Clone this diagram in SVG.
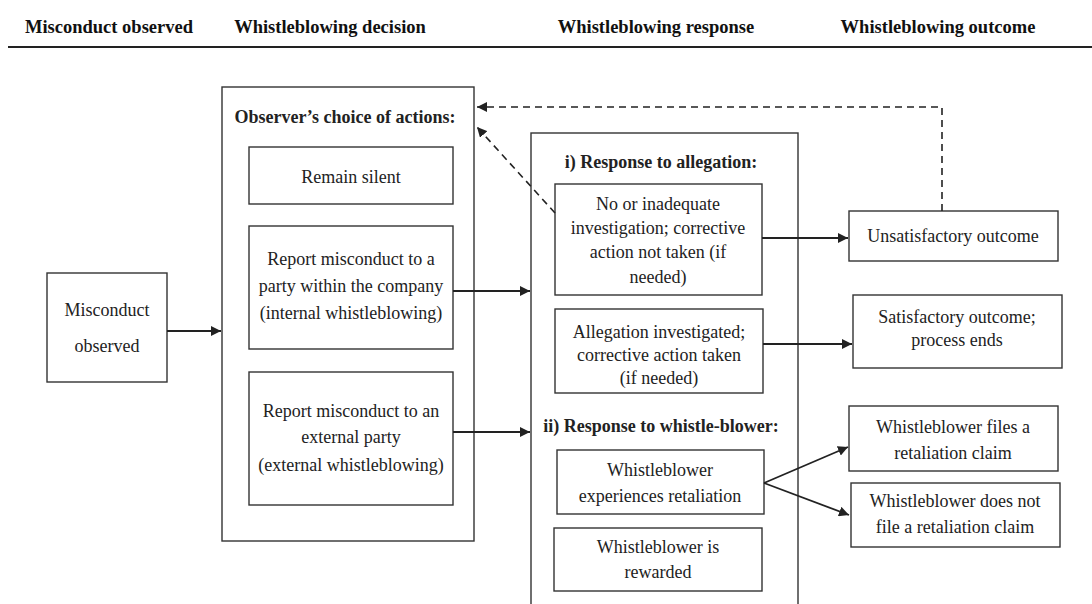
<svg xmlns="http://www.w3.org/2000/svg" width="1092" height="604" viewBox="0 0 1092 604">
  <defs>
    <marker id="arrow" viewBox="0 0 10 10" refX="10" refY="5" markerWidth="10" markerHeight="10" markerUnits="userSpaceOnUse" orient="auto">
      <path d="M0,0 L10,5 L0,10 z" fill="#222"/>
    </marker>
    <style>
      .box { fill: #fff; stroke: #333; stroke-width: 1.4; }
      .frame { fill: none; stroke: #333; stroke-width: 1.4; }
      .t { font-family: "Liberation Serif", "Times New Roman", serif; font-size: 18px; fill: #222; text-anchor: middle; }
      .b { font-family: "Liberation Serif", "Times New Roman", serif; font-size: 18px; font-weight: bold; fill: #222; text-anchor: middle; }
      .h { font-family: "Liberation Serif", "Times New Roman", serif; font-size: 18.5px; font-weight: bold; fill: #111; text-anchor: middle; }
      .link { fill: none; stroke: #222; stroke-width: 1.8; }
      .dash { fill: none; stroke: #222; stroke-width: 1.6; stroke-dasharray: 7 5; }
    </style>
  </defs>

  <rect width="1092" height="604" fill="#fff"/>

  <!-- column headings -->
  <g id="header">
    <text class="h" x="109" y="33">Misconduct observed</text>
    <text class="h" x="330" y="33">Whistleblowing decision</text>
    <text class="h" x="656" y="33">Whistleblowing response</text>
    <text class="h" x="938" y="33">Whistleblowing outcome</text>
    <line x1="8" y1="47" x2="1092" y2="47" stroke="#222" stroke-width="2.2"/>
  </g>

  <!-- misconduct -->
  <g id="misconduct">
    <rect class="box" x="47" y="273" width="120" height="109"/>
    <text class="t" x="107" y="316">Misconduct</text>
    <text class="t" x="107" y="352">observed</text>
  </g>

  <!-- decision column -->
  <g id="choices">
    <rect class="frame" x="222" y="87" width="252" height="454"/>
    <text class="b" x="345" y="123">Observer’s choice of actions:</text>
  </g>
  <g id="silent">
    <rect class="box" x="249" y="147" width="204" height="57"/>
    <text class="t" x="351" y="183">Remain silent</text>
  </g>
  <g id="internal">
    <rect class="box" x="249" y="226" width="204" height="123"/>
    <text class="t" x="351" y="265">Report misconduct to a</text>
    <text class="t" x="351" y="292">party within the company</text>
    <text class="t" x="351" y="319">(internal whistleblowing)</text>
  </g>
  <g id="external">
    <rect class="box" x="249" y="372" width="204" height="133"/>
    <text class="t" x="351" y="417">Report misconduct to an</text>
    <text class="t" x="351" y="443">external party</text>
    <text class="t" x="351" y="471">(external whistleblowing)</text>
  </g>

  <!-- response column -->
  <g id="response">
    <rect class="frame" x="531" y="133" width="267" height="480"/>
    <text class="b" x="661" y="168">i) Response to allegation:</text>
    <text class="b" x="661" y="432">ii) Response to whistle-blower:</text>
  </g>
  <g id="inadequate">
    <rect class="box" x="555" y="184" width="207" height="111"/>
    <text class="t" x="658" y="210">No or inadequate</text>
    <text class="t" x="658" y="234">investigation; corrective</text>
    <text class="t" x="658" y="258">action not taken (if</text>
    <text class="t" x="658" y="283">needed)</text>
  </g>
  <g id="investigated">
    <rect class="box" x="555" y="309" width="208" height="84"/>
    <text class="t" x="659" y="338">Allegation investigated;</text>
    <text class="t" x="659" y="361">corrective action taken</text>
    <text class="t" x="659" y="384">(if needed)</text>
  </g>
  <g id="retaliation">
    <rect class="box" x="557" y="450" width="207" height="64"/>
    <text class="t" x="660" y="476">Whistleblower</text>
    <text class="t" x="660" y="502">experiences retaliation</text>
  </g>
  <g id="rewarded">
    <rect class="box" x="554" y="528" width="208" height="63"/>
    <text class="t" x="658" y="553">Whistleblower is</text>
    <text class="t" x="658" y="578">rewarded</text>
  </g>

  <!-- outcome column -->
  <g id="unsatisfactory">
    <rect class="box" x="849" y="211" width="209" height="50"/>
    <text class="t" x="953" y="242">Unsatisfactory outcome</text>
  </g>
  <g id="satisfactory">
    <rect class="box" x="853" y="295" width="209" height="73"/>
    <text class="t" x="957" y="323">Satisfactory outcome;</text>
    <text class="t" x="957" y="346">process ends</text>
  </g>
  <g id="files-claim">
    <rect class="box" x="849" y="406" width="209" height="65"/>
    <text class="t" x="953" y="433">Whistleblower files a</text>
    <text class="t" x="953" y="459">retaliation claim</text>
  </g>
  <g id="no-claim">
    <rect class="box" x="851" y="483" width="209" height="64"/>
    <text class="t" x="955" y="507">Whistleblower does not</text>
    <text class="t" x="955" y="533">file a retaliation claim</text>
  </g>

  <!-- connectors -->
  <g id="connectors">
    <line class="link" x1="167" y1="331" x2="221" y2="331" marker-end="url(#arrow)"/>
    <line class="link" x1="453" y1="291" x2="530" y2="291" marker-end="url(#arrow)"/>
    <line class="link" x1="453" y1="432" x2="530" y2="432" marker-end="url(#arrow)"/>
    <line class="link" x1="762" y1="238" x2="848" y2="238" marker-end="url(#arrow)"/>
    <line class="link" x1="763" y1="344" x2="852" y2="344" marker-end="url(#arrow)"/>
    <line class="link" x1="764" y1="483" x2="848" y2="447" marker-end="url(#arrow)"/>
    <line class="link" x1="764" y1="483" x2="849" y2="515" marker-end="url(#arrow)"/>
    <polyline class="dash" points="942,211 942,107 477,107" marker-end="url(#arrow)"/>
    <line class="dash" x1="555" y1="213" x2="477" y2="127" marker-end="url(#arrow)"/>
  </g>
</svg>
